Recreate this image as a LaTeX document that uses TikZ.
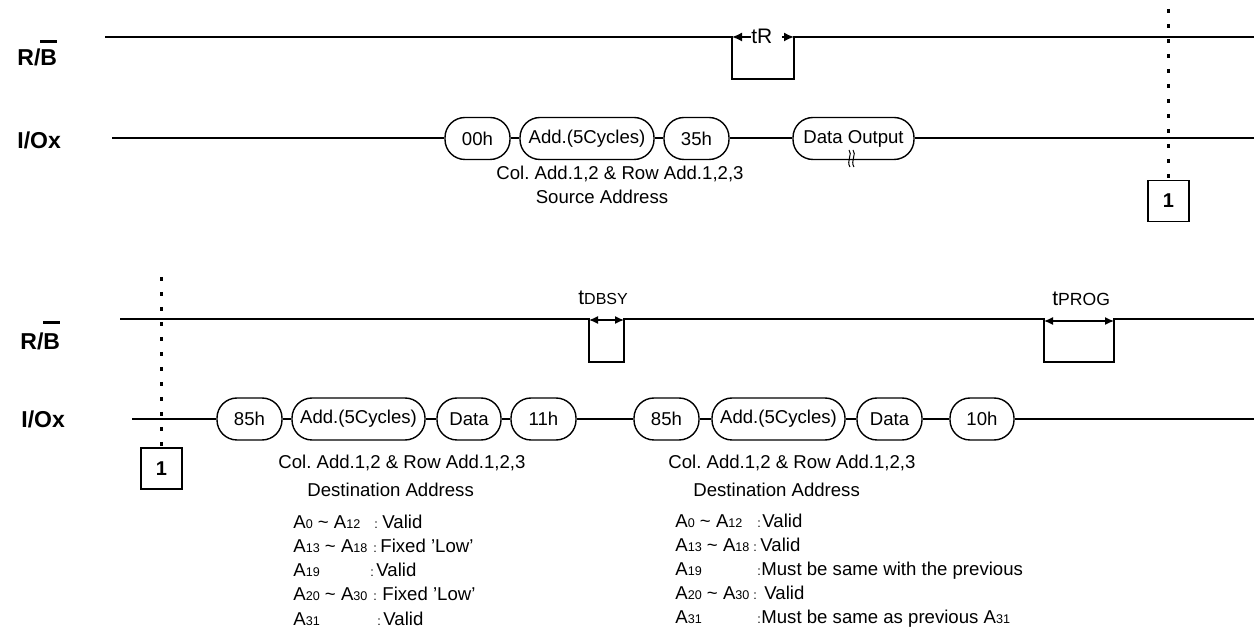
\documentclass[tikz,border=0pt]{standalone}
\usepackage{fontspec}
\setmainfont{Liberation Sans}
\usetikzlibrary{arrows.meta}
\frenchspacing
\newcommand{\sbs}[1]{{\fontsize{6.3}{7}\selectfont #1}}
\newcommand{\barB}[1]{\setbox0\hbox{B}\rlap{\raisebox{\dimexpr\ht0+#1\relax}{\rule{\wd0}{1.4pt}}}\box0}
\newcommand{\maintext}{\fontsize{9.3}{11}\selectfont}
\tikzset{
  sig/.style={line width=1pt},
  bx/.style={draw, line width=0.7pt, rounded corners=10pt, minimum height=21pt, inner sep=0pt, font=\maintext},
  numbox/.style={draw, line width=0.8pt, minimum size=20.5pt, inner sep=0pt, font=\fontsize{10}{12}\selectfont\bfseries},
  txt/.style={inner sep=0pt, anchor=base west, font=\maintext},
  ctxt/.style={inner sep=0pt, anchor=base, font=\maintext},
  small/.style={inner sep=0pt, anchor=base west, font=\fontsize{6.3}{7}\selectfont},
  lbl/.style={inner sep=0pt, anchor=base west, font=\fontsize{11.5}{13}\selectfont\bfseries},
  dots/.style={line width=1.5pt, dash pattern=on 2pt off 5.5pt},
  arr/.style={line width=0.8pt, -{Latex[length=5pt,width=4.5pt]}},
  darr/.style={line width=0.7pt, {Latex[length=4.5pt,width=4pt]}-{Latex[length=4.5pt,width=4pt]}},
}
\begin{document}
\begin{tikzpicture}[x=0.5pt,y=-0.5pt]
\useasboundingbox (0,0) rectangle (1254,630);

% ---------------- top section ----------------
\node[lbl] (rbA) at (17,66) {R/\barB{3.6pt}};
\node[lbl] (ioA) at (17,149) {I/Ox};

% R/B waveform
\coordinate (r1s) at (105,37);
\coordinate (r1a) at (732,37);
\coordinate (r1b) at (732,79);
\coordinate (r1c) at (794,79);
\coordinate (r1d) at (794,37);
\coordinate (r1e) at (1254,37);
\draw[sig] (r1s) -- (r1a) -- (r1b) -- (r1c) -- (r1d) -- (r1e);

% tR
\node[inner sep=0pt, anchor=base west, font=\fontsize{10.5}{12}\selectfont] (tR) at (751,44) {tR};
\coordinate (tRa) at (751,37);
\coordinate (tRb) at (782,37);
\draw[arr] (tRa) -- (r1a);
\draw[arr] (tRb) -- (r1d);

% I/O boxes
\node[bx, minimum width=32.5pt] (b00) at (477.5,138.5) {00h};
\node[bx, minimum width=67pt] (bad1) at (587,138.5) {Add.(5Cycles)};
\node[bx, minimum width=32.5pt] (b35) at (696.5,138.5) {35h};
\node[bx, minimum width=60.5pt] (bdo) at (853.5,138.5) {Data Output};
\coordinate (i1s) at (112,138.5);
\coordinate (i1e) at (1254,138.5);
\draw[sig] (i1s) -- (b00.west);
\draw[sig] (b00.east) -- (bad1.west);
\draw[sig] (bad1.east) -- (b35.west);
\draw[sig] (b35.east) -- (bdo.west);
\draw[sig] (bdo.east) -- (i1e);
% break marks
\draw[line width=0.5pt] (849,150) .. controls (853,154) and (846,161) .. (850,167);
\draw[line width=0.5pt] (853,150) .. controls (857,154) and (850,161) .. (854,167);

\node[ctxt] (colA) at (620,180) {Col. Add.1,2 \& Row Add.1,2,3};
\node[ctxt] (srcA) at (602,204) {Source Address};

% connector mark 1 (top)
\node[numbox] (oneA) at (1168.5,201) {1};
\coordinate (dA) at (1168.5,9);
\draw[dots] (dA) -- (oneA.north);

% ---------------- bottom section ----------------
\node[lbl] (rbB) at (20,350) {R/\barB{5.2pt}};
\node[lbl] (ioB) at (21,428) {I/Ox};

\coordinate (r2s) at (120,319);
\coordinate (r2a) at (589,319);
\coordinate (r2b) at (589,362);
\coordinate (r2c) at (624,362);
\coordinate (r2d) at (624,319);
\coordinate (r2f) at (1044,319);
\coordinate (r2g) at (1044,362);
\coordinate (r2h) at (1114,362);
\coordinate (r2i) at (1114,319);
\coordinate (r2e) at (1254,319);
\draw[sig] (r2s) -- (r2a) -- (r2b) -- (r2c) -- (r2d) -- (r2f) -- (r2g) -- (r2h) -- (r2i) -- (r2e);

% tDBSY
\node[inner sep=0pt, anchor=base west] (tdb) at (578,305) {{\fontsize{10.5}{12}\selectfont t}{\fontsize{8}{10}\selectfont DBSY}};
\coordinate (tdba) at (589,320);
\coordinate (tdbb) at (624,320);
\draw[darr] (tdba) -- (tdbb);
% tPROG
\node[inner sep=0pt, anchor=base west] (tpr) at (1052,306) {{\fontsize{10.5}{12}\selectfont t}{\fontsize{8.8}{10}\selectfont PROG}};
\coordinate (tpra) at (1044,321);
\coordinate (tprb) at (1114,321);
\draw[darr] (tpra) -- (tprb);

% I/O boxes bottom
\node[bx, minimum width=32.5pt] (c85a) at (249.5,419) {85h};
\node[bx, minimum width=66.5pt] (cada) at (358.5,419) {Add.(5Cycles)};
\node[bx, minimum width=32pt] (cdta) at (469,419) {Data};
\node[bx, minimum width=32.5pt] (c11) at (543.5,419) {11h};
\node[bx, minimum width=32.5pt] (c85b) at (666.5,419) {85h};
\node[bx, minimum width=66.5pt] (cadb) at (778.5,419) {Add.(5Cycles)};
\node[bx, minimum width=32.5pt] (cdtb) at (889.5,419) {Data};
\node[bx, minimum width=32pt] (c10) at (982,419) {10h};
\coordinate (i2s) at (132,419);
\coordinate (i2e) at (1254,419);
\draw[sig] (i2s) -- (c85a.west);
\draw[sig] (c85a.east) -- (cada.west);
\draw[sig] (cada.east) -- (cdta.west);
\draw[sig] (cdta.east) -- (c11.west);
\draw[sig] (c11.east) -- (c85b.west);
\draw[sig] (c85b.east) -- (cadb.west);
\draw[sig] (cadb.east) -- (cdtb.west);
\draw[sig] (cdtb.east) -- (c10.west);
\draw[sig] (c10.east) -- (i2e);

% connector mark 1 (bottom)
\node[numbox] (oneB) at (161.5,468.5) {1};
\coordinate (dB) at (161.5,277);
\draw[dots] (dB) -- (oneB.north);

% descriptions
\node[txt] (colB) at (278,469) {Col. Add.1,2 \& Row Add.1,2,3};
\node[txt] (dstB) at (307,497) {Destination Address};
\node[txt] (colC) at (668,469) {Col. Add.1,2 \& Row Add.1,2,3};
\node[txt] (dstC) at (693,497) {Destination Address};

% table 1
\node[txt] (t1a1) at (293,529) {A\sbs{0} \textasciitilde{} A\sbs{12}};
\node[small] (t1b1) at (374,529) {:};
\node[txt] (t1c1) at (382,529) {Valid};
\node[txt] (t1a2) at (293,553) {A\sbs{13} \textasciitilde{} A\sbs{18}};
\node[small] (t1b2) at (373,553) {:};
\node[txt] (t1c2) at (380,553) {Fixed ’Low’};
\node[txt] (t1a3) at (293,577) {A\sbs{19}};
\node[small] (t1b3) at (370,577) {:};
\node[txt] (t1c3) at (376,577) {Valid};
\node[txt] (t1a4) at (293,601) {A\sbs{20} \textasciitilde{} A\sbs{30}};
\node[small] (t1b4) at (373,601) {:};
\node[txt] (t1c4) at (382,601) {Fixed ’Low’};
\node[txt] (t1a5) at (293,625) {A\sbs{31}};
\node[small] (t1b5) at (377,625) {:};
\node[txt] (t1c5) at (383,625) {Valid};

% table 2
\node[txt] (t2a1) at (675,528) {A\sbs{0} \textasciitilde{} A\sbs{12}};
\node[small] (t2b1) at (757,528) {:};
\node[txt] (t2c1) at (762,528) {Valid};
\node[txt] (t2a2) at (675,552) {A\sbs{13} \textasciitilde{} A\sbs{18}};
\node[small] (t2b2) at (753,552) {:};
\node[txt] (t2c2) at (760,552) {Valid};
\node[txt] (t2a3) at (675,576) {A\sbs{19}};
\node[small] (t2b3) at (757,576) {:};
\node[txt] (t2c3) at (761,576) {Must be same with the previous};
\node[txt] (t2a4) at (675,600) {A\sbs{20} \textasciitilde{} A\sbs{30}};
\node[small] (t2b4) at (753,600) {:};
\node[txt] (t2c4) at (764,600) {Valid};
\node[txt] (t2a5) at (675,624) {A\sbs{31}};
\node[small] (t2b5) at (757,624) {:};
\node[txt] (t2c5) at (761,624) {Must be same as previous A\sbs{31}};
\end{tikzpicture}
\end{document}
